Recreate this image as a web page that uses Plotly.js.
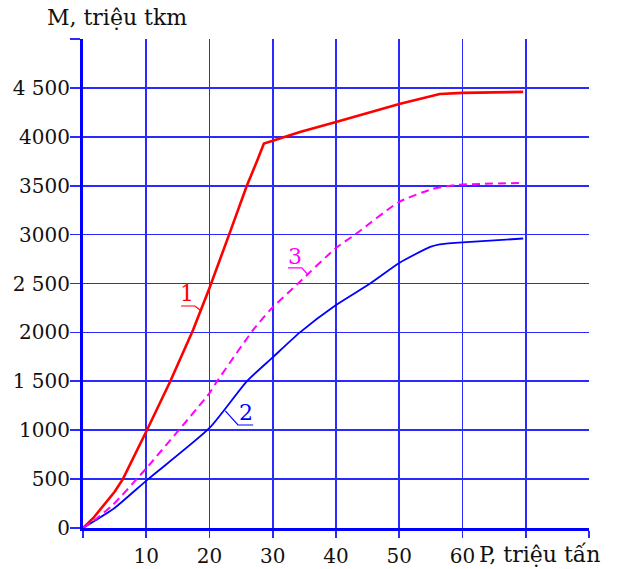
<!DOCTYPE html>
<html>
<head>
<meta charset="utf-8">
<script src="https://cdn.plot.ly/plotly-3.0.1.min.js"></script>
<style>html,body{margin:0;padding:0;background:#fff;}#chart{width:620px;height:569px;}</style>
</head>
<body>
<div id="chart"></div>
<script>
// Curve 1 (red, solid)
const x1 = [0, 1.6, 5, 6.3, 10.1, 13.8, 17.4, 20, 23.1, 25.9, 27.5, 28.6, 30, 34.3, 40, 45, 50, 56.4, 60, 69.6];
const y1 = [0, 100, 370, 500, 1000, 1500, 2025, 2454, 3000, 3500, 3750, 3932, 3960, 4050, 4152, 4244, 4336, 4438, 4449, 4459];
// Curve 2 (blue, solid)
const x2 = [0, 2, 5, 10.3, 20, 25.9, 30, 34.3, 40, 45.4, 50, 54.9, 56.4, 60, 69.6];
const y2 = [0, 80, 205, 500, 1023, 1500, 1745, 2000, 2280, 2500, 2710, 2874, 2900, 2920, 2960];
// Curve 3 (magenta, dashed)
const x3 = [0, 2, 4.7, 10, 20, 21.2, 26.9, 29.6, 34, 40, 43, 50, 55.3, 59.1, 69.6];
const y3 = [0, 90, 235, 610, 1380, 1500, 2025, 2230, 2500, 2863, 3000, 3334, 3467, 3508, 3528];

// Ticks
const xTickVals = [0, 10, 20, 30, 40, 50, 60, 70, 80];
const xTickText = ['', '10', '20', '30', '40', '50', '60', '', ''];
const yTickVals = [0, 500, 1000, 1500, 2000, 2500, 3000, 3500, 4000, 4500, 5000];
const yTickText = ['0', '500', '1000', '1 500', '2000', '2 500', '3000', '3500', '4000', '4 500', ''];

// Curve labels
const curveNames = ['1', '2', '3'];
const curveLabelX = [16.4, 25.7, 33.5];
const curveLabelY = [2395, 1185, 2780];
const curveColors = ['#ff0000', '#0000ff', '#ff00ff'];
// Leader lines (underline + pointer) for the labels
const leaderX = [[15.5, 17.7, 18.7], [22.5, 24.5, 26.9], [32.4, 34.6, 35.6]];
const leaderY = [[2270, 2270, 2219], [1197, 1053, 1053], [2659, 2659, 2587]];

const SERIF = 'DejaVu Serif, Liberation Serif, serif';
const BLUE = '#0000ff';
const GRID = '#2a2aff';

const traces = [
  {x: x1, y: y1, mode: 'lines', line: {color: curveColors[0], width: 2.6}, hoverinfo: 'skip'},
  {x: x2, y: y2, mode: 'lines', line: {color: curveColors[1], width: 1.8, shape: 'spline', smoothing: 0.6}, hoverinfo: 'skip'},
  {x: x3, y: y3, mode: 'lines', line: {color: curveColors[2], width: 2, dash: '8px,5px', shape: 'spline', smoothing: 0.6}, hoverinfo: 'skip'}
];

const shapes = leaderX.map((xs, i) => ({
  type: 'path', xref: 'x', yref: 'y', layer: 'above',
  path: 'M ' + xs.map((v, k) => v + ',' + leaderY[i][k]).join(' L '),
  line: {color: curveColors[i], width: 1.2}
}));

const annotations = curveNames.map((t, i) => ({
  x: curveLabelX[i], y: curveLabelY[i], xref: 'x', yref: 'y',
  text: t, showarrow: false, xanchor: 'center', yanchor: 'middle',
  font: {family: SERIF, size: 22, color: curveColors[i]}
}));
annotations.push({
  xref: 'paper', yref: 'paper', x: -0.075, y: 1.043, xanchor: 'left', yanchor: 'middle',
  text: 'M, triệu tkm', showarrow: false, font: {family: SERIF, size: 22, color: '#111'}
});
annotations.push({
  xref: 'paper', yref: 'paper', x: 0.779, y: -0.055, xanchor: 'left', yanchor: 'middle',
  text: 'P, triệu tấn', showarrow: false, font: {family: SERIF, size: 22, color: '#111'}
});

const axisCommon = {
  showgrid: true, gridcolor: GRID, gridwidth: 1.6,
  showline: true, linecolor: BLUE, linewidth: 3,
  ticks: 'outside', tickcolor: GRID, tickwidth: 1.6,
  zeroline: false, tickmode: 'array',
  tickfont: {family: SERIF, size: 20, color: '#111'}
};

const layout = {
  width: 620, height: 569,
  margin: {l: 83, r: 31, t: 39, b: 41},
  paper_bgcolor: '#fff', plot_bgcolor: '#fff',
  showlegend: false,
  xaxis: Object.assign({}, axisCommon, {range: [0, 80], tickvals: xTickVals, ticktext: xTickText, ticklen: 7, ticklabelstandoff: 1}),
  yaxis: Object.assign({}, axisCommon, {range: [0, 5000], tickvals: yTickVals, ticktext: yTickText, ticklen: 10, ticklabelstandoff: -4}),
  shapes: shapes,
  annotations: annotations
};

Plotly.newPlot('chart', traces, layout, {staticPlot: true, displayModeBar: false});
</script>
</body>
</html>
